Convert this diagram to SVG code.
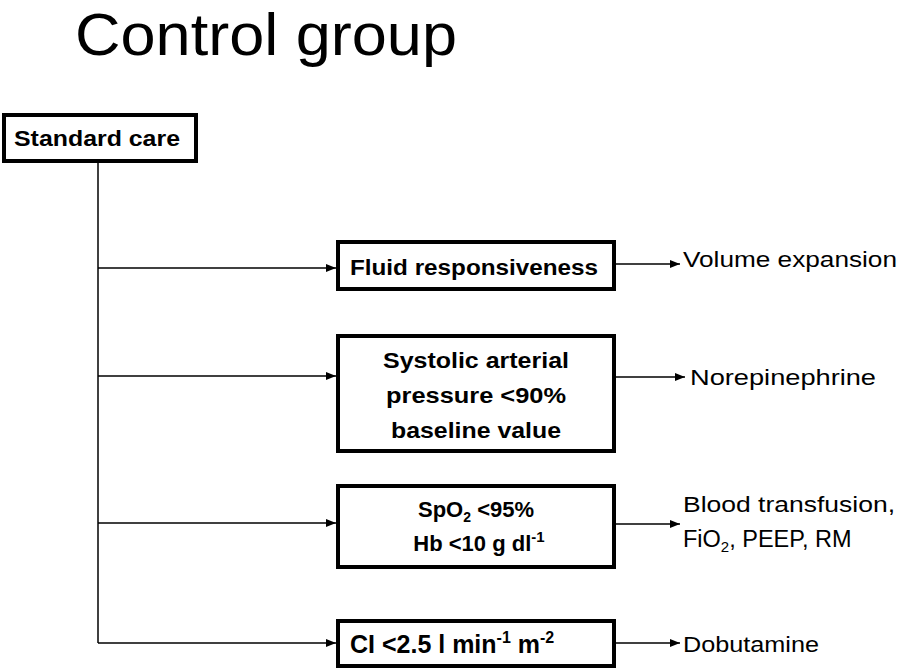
<svg xmlns="http://www.w3.org/2000/svg" width="897" height="671" viewBox="0 0 897 671">
<defs>
<marker id="ah" markerWidth="10" markerHeight="8" refX="10" refY="4" orient="auto" markerUnits="userSpaceOnUse">
<path d="M0,0 L10,4 L0,8 Z" fill="#000"/>
</marker>
<style>
text{font-family:"Liberation Sans","Open Sans",Arial,sans-serif;fill:#000}
.box{fill:#fff;stroke:#000;stroke-width:4}
.b{font-weight:bold;font-size:22px;text-anchor:middle}
.r{font-size:22px}
.c{stroke:#000;stroke-width:1.5;fill:none}
.a{stroke:#000;stroke-width:1.5;fill:none;marker-end:url(#ah)}
</style>
</defs>
<rect width="897" height="671" fill="#fff"/>
<text x="75" y="55" font-size="60" textLength="382" lengthAdjust="spacingAndGlyphs">Control group</text>
<g id="connectors">
<path class="c" d="M98,162 V643"/>
<path class="a" d="M98,268 H336"/>
<path class="a" d="M98,376 H336"/>
<path class="a" d="M98,523 H336"/>
<path class="a" d="M98,643 H336"/>
<path class="a" d="M615,264 H680"/>
<path class="a" d="M615,377 H685"/>
<path class="a" d="M615,524 H680"/>
<path class="a" d="M615,643 H680"/>
</g>
<g id="standard-care">
<rect class="box" x="4" y="115" width="192" height="46"/>
<text class="b" x="97" y="146" textLength="166" lengthAdjust="spacingAndGlyphs">Standard care</text>
</g>
<g id="fluid">
<rect class="box" x="338" y="242" width="276" height="47"/>
<text class="b" x="474" y="275" textLength="248" lengthAdjust="spacingAndGlyphs">Fluid responsiveness</text>
</g>
<g id="systolic">
<rect class="box" x="338" y="336" width="276" height="115"/>
<text class="b" x="476" y="368" textLength="186" lengthAdjust="spacingAndGlyphs">Systolic arterial</text>
<text class="b" x="476" y="403" textLength="180" lengthAdjust="spacingAndGlyphs">pressure &lt;90%</text>
<text class="b" x="476" y="438" textLength="170" lengthAdjust="spacingAndGlyphs">baseline value</text>
</g>
<g id="spo2">
<rect class="box" x="338" y="486" width="276" height="81"/>
<text class="b" x="476" y="517">SpO<tspan font-size="14" dy="5">2</tspan><tspan dy="-5"> &lt;95%</tspan></text>
<text class="b" x="479" y="551">Hb &lt;10 g dl<tspan font-size="15" dy="-9">-1</tspan></text>
</g>
<g id="ci">
<rect class="box" x="338" y="621" width="276" height="45"/>
<text class="b" x="350" y="653" style="text-anchor:start;font-size:25px">CI &lt;2.5 l min<tspan font-size="16" dy="-10">-1</tspan><tspan dy="10"> m</tspan><tspan font-size="16" dy="-10">-2</tspan></text>
</g>
<g id="outcomes">
<text class="r" x="683" y="267" textLength="214" lengthAdjust="spacingAndGlyphs">Volume expansion</text>
<text class="r" x="690" y="385" textLength="186" lengthAdjust="spacingAndGlyphs">Norepinephrine</text>
<text class="r" x="683" y="512" textLength="212" lengthAdjust="spacingAndGlyphs">Blood transfusion,</text>
<text class="r" x="683" y="547" style="font-size:23.5px">FiO<tspan font-size="15" dy="5">2</tspan><tspan dy="-5">, PEEP, RM</tspan></text>
<text class="r" x="683" y="652" textLength="136" lengthAdjust="spacingAndGlyphs">Dobutamine</text>
</g>
</svg>
